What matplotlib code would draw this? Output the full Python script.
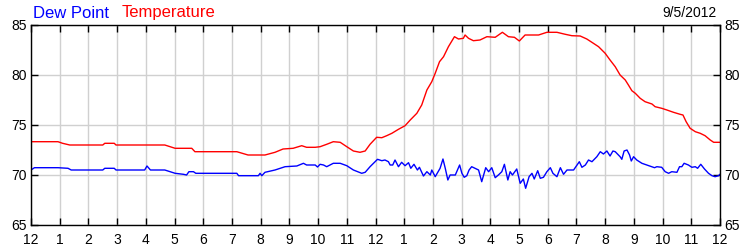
import numpy as np
import matplotlib
matplotlib.use('Agg')
import matplotlib.pyplot as plt

# hours since midnight and readings (deg F)
temp_hours = [0.0, 0.94, 1.1, 1.35, 2.5, 2.57, 2.9, 2.96, 4.66, 5.02, 5.6, 5.71, 7.17, 7.56,
              8.15, 8.5, 8.78, 9.13, 9.43, 9.6, 9.9, 10.07, 10.3, 10.53, 10.77, 11.0, 11.23,
              11.46, 11.64, 11.81, 12.04, 12.22, 12.39, 12.57, 12.8, 13.03, 13.21, 13.44,
              13.61, 13.79, 13.96, 14.08, 14.23, 14.37, 14.54, 14.75, 14.89, 15.06, 15.12,
              15.24, 15.41, 15.64, 15.88, 16.17, 16.42, 16.63, 16.84, 17.01, 17.21, 17.45,
              17.68, 17.97, 18.32, 18.61, 18.84, 19.13, 19.36, 19.59, 19.77, 20.0, 20.17,
              20.35, 20.52, 20.7, 20.81, 20.93, 21.05, 21.22, 21.39, 21.63, 21.74, 21.97,
              22.15, 22.38, 22.61, 22.71, 22.82, 22.96, 23.14, 23.31, 23.48, 23.66, 23.78, 24.0]
temperature = [73.33, 73.33, 73.17, 73.0, 73.0, 73.17, 73.17, 73.0, 73.0, 72.67, 72.67, 72.33,
               72.33, 72.0, 72.0, 72.27, 72.6, 72.67, 72.93, 72.77, 72.77, 72.83, 73.07, 73.33,
               73.27, 72.83, 72.4, 72.27, 72.4, 73.07, 73.77, 73.73, 73.93, 74.17, 74.57, 74.93,
               75.5, 76.17, 77.0, 78.5, 79.33, 80.17, 81.33, 81.83, 82.83, 83.83, 83.6, 83.67,
               84.0, 83.67, 83.43, 83.5, 83.83, 83.77, 84.27, 83.83, 83.77, 83.4, 84.0, 84.0,
               84.0, 84.27, 84.27, 84.07, 83.93, 83.9, 83.6, 83.17, 82.83, 82.17, 81.5, 80.83,
               80.0, 79.5, 79.0, 78.43, 78.17, 77.67, 77.33, 77.1, 76.83, 76.67, 76.5, 76.27,
               76.07, 76.0, 75.33, 74.67, 74.33, 74.17, 73.93, 73.5, 73.27, 73.27]

dew_hours = [0.0, 0.12, 0.94, 1.29, 1.4, 2.5, 2.57, 2.9, 2.96, 3.96, 4.04, 4.16, 4.66, 5.02,
             5.31, 5.42, 5.5, 5.66, 5.74, 7.17, 7.23, 7.92, 7.98, 8.04, 8.15, 8.5, 8.68, 8.85,
             9.26, 9.49, 9.6, 9.9, 9.98, 10.07, 10.19, 10.3, 10.53, 10.77, 11.0, 11.23, 11.52,
             11.64, 11.81, 12.07, 12.22, 12.33, 12.45, 12.51, 12.6, 12.68, 12.8, 12.91, 13.03,
             13.15, 13.23, 13.34, 13.46, 13.53, 13.67, 13.79, 13.91, 13.96, 14.08, 14.25, 14.35,
             14.43, 14.52, 14.6, 14.78, 14.93, 15.01, 15.09, 15.18, 15.26, 15.35, 15.47, 15.59,
             15.7, 15.84, 15.94, 16.05, 16.17, 16.28, 16.4, 16.49, 16.61, 16.69, 16.77, 16.92,
             17.04, 17.15, 17.23, 17.35, 17.45, 17.53, 17.65, 17.74, 17.85, 17.97, 18.09, 18.18,
             18.32, 18.44, 18.55, 18.67, 18.9, 18.98, 19.1, 19.19, 19.31, 19.42, 19.54, 19.71,
             19.83, 19.94, 20.06, 20.17, 20.27, 20.35, 20.52, 20.58, 20.66, 20.76, 20.85, 20.91,
             20.99, 21.1, 21.28, 21.45, 21.63, 21.72, 21.8, 21.97, 22.09, 22.21, 22.32, 22.5,
             22.59, 22.67, 22.75, 22.9, 23.02, 23.14, 23.22, 23.33, 23.46, 23.6, 23.72, 23.83,
             23.95, 24.0]
dew_point = [70.5, 70.73, 70.73, 70.67, 70.5, 70.5, 70.67, 70.67, 70.5, 70.5, 70.9, 70.5, 70.5,
             70.17, 70.07, 70.0, 70.33, 70.33, 70.17, 70.17, 69.93, 69.93, 70.17, 69.93, 70.27,
             70.5, 70.67, 70.83, 70.9, 71.17, 71.0, 71.0, 70.8, 71.07, 71.0, 70.83, 71.17, 71.17,
             70.93, 70.5, 70.17, 70.27, 70.83, 71.57, 71.43, 71.5, 71.33, 71.0, 71.0, 71.5,
             70.83, 71.27, 70.93, 71.23, 70.67, 71.07, 70.5, 70.77, 69.9, 70.33, 70.0, 70.5,
             69.83, 70.67, 71.6, 70.67, 69.5, 70.0, 70.0, 71.0, 70.17, 69.77, 69.93, 70.5,
             70.83, 70.67, 70.5, 69.33, 70.73, 70.33, 70.73, 69.73, 70.0, 70.33, 71.07, 69.5,
             70.33, 70.0, 70.6, 69.17, 69.6, 68.67, 69.83, 70.17, 69.6, 70.43, 69.67, 69.77,
             70.33, 70.73, 70.17, 69.83, 70.73, 70.07, 70.5, 70.5, 70.83, 71.33, 70.77, 71.0,
             71.5, 71.33, 71.83, 72.33, 72.1, 72.4, 71.9, 72.4, 72.33, 71.83, 71.57, 72.4, 72.5,
             72.0, 71.4, 71.83, 71.5, 71.17, 71.0, 70.83, 70.73, 70.83, 70.77, 70.33, 70.17,
             70.33, 70.27, 70.83, 70.83, 71.17, 71.0, 70.77, 70.83, 70.67, 71.07, 70.6, 70.17,
             69.93, 69.83, 69.93, 70.07]

hour_labels = ['12', '1', '2', '3', '4', '5', '6', '7', '8', '9', '10', '11',
               '12', '1', '2', '3', '4', '5', '6', '7', '8', '9', '10', '11', '12']
y_ticks = [65, 70, 75, 80, 85]
date_label = '9/5/2012'

plt.rcParams['font.family'] = ['Liberation Sans', 'DejaVu Sans']

fig = plt.figure(figsize=(7.5, 2.5), dpi=100)
ax = fig.add_axes([31 / 750, 25 / 250, 689 / 750, 200 / 250])

ax.plot(temp_hours, temperature, color='#ff0000', linewidth=1)
ax.plot(dew_hours, dew_point, color='#0000ff', linewidth=1)

ax.set_xlim(0, 24)
ax.set_ylim(65, 85)
ax.set_xticks(range(25))
ax.set_xticklabels(hour_labels)
ax.set_yticks(y_ticks)
ax.grid(True, color='#d0d0d0', linewidth=1)
ax.set_axisbelow(True)

ax.tick_params(axis='both', direction='in', length=5, width=1, labelsize=10,
               colors='black', top=True, right=True, labelright=True)
ax.tick_params(axis='x', pad=6)
ax.tick_params(axis='y', pad=3)
for s in ax.spines.values():
    s.set_linewidth(1)
    s.set_color('black')

fig.text(33 / 750, 1 - 13 / 250, 'Dew Point', color='#0000ff', fontsize=12, va='center', ha='left')
fig.text(122 / 750, 1 - 13 / 250, 'Temperature', color='#ff0000', fontsize=12, va='center', ha='left')
fig.text(717 / 750, 1 - 13 / 250, date_label, color='black', fontsize=10, va='center', ha='right')

fig.savefig('out.png', dpi=100)
